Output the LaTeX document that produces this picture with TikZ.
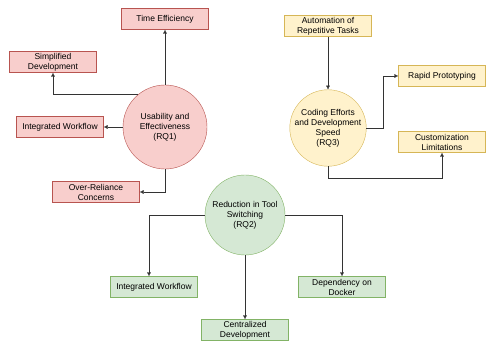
\documentclass[tikz,border=0pt]{standalone}
\usepackage{fontspec}
\setmainfont{Liberation Sans}
\usetikzlibrary{arrows.meta}

\definecolor{redfill}{HTML}{F8CECC}
\definecolor{redline}{HTML}{B85450}
\definecolor{yelfill}{HTML}{FFF2CC}
\definecolor{yelline}{HTML}{D6B656}
\definecolor{grnfill}{HTML}{D5E8D4}
\definecolor{grnline}{HTML}{82B366}

\begin{document}
\begin{tikzpicture}
      [x=1pt,y=-1pt,
        every node/.style={font=\fontsize{8.5}{10}\selectfont, align=center},
        topic/.style={circle, draw, inner sep=0pt},
        leaf/.style={rectangle, draw, minimum width=87pt, minimum height=21pt, inner sep=1pt},
        link/.style={draw=black!80, -{Latex[length=4pt,width=4pt]}}]
  \useasboundingbox (0,0) rectangle (486,344);
  % RQ1
  \node[topic, fill=redfill, draw=redline, minimum size=84pt] (rq1) at (165,127)
      {Usability and\\Effectiveness\\(RQ1)};
  \node[leaf, fill=redfill, draw=redline] (time) at (165,19) {Time Efficiency};
  \node[leaf, fill=redfill, draw=redline] (simple) at (53,62) {Simplified\\Development};
  \node[leaf, fill=redfill, draw=redline] (integ1) at (60,127) {Integrated Workflow};
  \node[leaf, fill=redfill, draw=redline] (over) at (96,192) {Over-Reliance\\Concerns};
  \draw[link] (rq1.north) -- (time.south);
  \draw[link] (rq1.130) -- (simple.south |- rq1.130) -- (simple.south);
  \draw[link] (rq1.west) -- (integ1.east);
  \draw[link] (rq1.south) |- (over.east);
  % RQ3
  \node[topic, fill=yelfill, draw=yelline, minimum size=74pt] (rq3) at (328,128)
      {Coding Efforts\\and Development\\Speed\\(RQ3)};
  \node[leaf, fill=yelfill, draw=yelline] (auto) at (328,26) {Automation of\\Repetitive Tasks};
  \node[leaf, fill=yelfill, draw=yelline] (rapid) at (442,76) {Rapid Prototyping};
  \node[leaf, fill=yelfill, draw=yelline] (custom) at (442,142) {Customization\\Limitations};
  \draw[link] (auto.south) -- (rq3.north);
  \draw[link] (rq3.east) -- (383,128) |- (rapid.west);
  \draw[link] (rq3.south) -- (328,178) -| (custom.south);
  % RQ2
  \node[topic, fill=grnfill, draw=grnline, minimum size=80pt] (rq2) at (245,215)
      {Reduction in Tool\\Switching\\(RQ2)};
  \node[leaf, fill=grnfill, draw=grnline] (integ2) at (154,287) {Integrated Workflow};
  \node[leaf, fill=grnfill, draw=grnline] (central) at (245,330) {Centralized\\Development};
  \node[leaf, fill=grnfill, draw=grnline] (docker) at (342,287) {Dependency on\\Docker};
  \draw[link] (rq2.west) -| ([xshift=-5pt]integ2.north);
  \draw[link] (rq2.south) -- (central.north);
  \draw[link] (rq2.east) -| (docker.north);
\end{tikzpicture}
\end{document}
